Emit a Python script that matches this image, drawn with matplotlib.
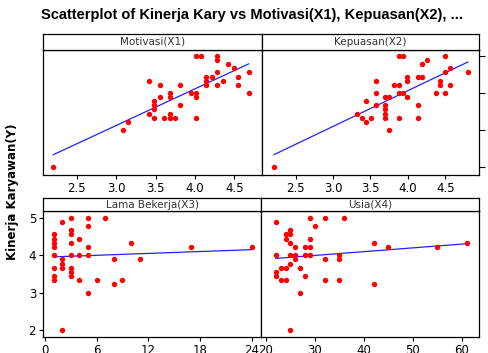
import numpy as np
import matplotlib.pyplot as plt

# Motivasi(X1)
x1 = [2.20, 3.08, 3.15, 3.41, 3.41, 3.48, 3.48, 3.48, 3.48, 3.55, 3.55, 3.61,
      3.68, 3.68, 3.68, 3.68, 3.74, 3.81, 3.81, 3.95, 4.01, 4.01, 4.01, 4.01,
      4.08, 4.14, 4.14, 4.14, 4.21, 4.28, 4.28, 4.28, 4.28, 4.35, 4.42, 4.49,
      4.55, 4.55, 4.68, 4.68]
y1 = [2.00, 3.00, 3.22, 4.33, 3.44, 3.33, 3.56, 3.67, 3.78, 3.89, 4.22, 3.33,
      3.33, 3.44, 3.89, 4.00, 3.33, 3.67, 4.22, 4.00, 4.00, 3.89, 3.33, 5.00,
      5.00, 4.22, 4.33, 4.44, 4.44, 4.22, 4.56, 4.89, 5.00, 4.33, 4.78, 4.67,
      4.44, 4.22, 4.56, 4.00]

# Kepuasan(X2)
x2 = [2.21, 3.32, 3.38, 3.44, 3.44, 3.51, 3.58, 3.58, 3.58, 3.69, 3.69, 3.69,
      3.69, 3.69, 3.75, 3.75, 3.82, 3.88, 3.88, 3.88, 3.88, 3.93, 3.93, 3.99,
      3.99, 3.99, 4.13, 4.13, 4.13, 4.19, 4.19, 4.25, 4.37, 4.43, 4.43, 4.49,
      4.49, 4.49, 4.56, 4.56, 4.80]
y2 = [2.00, 3.44, 3.33, 3.22, 3.78, 3.33, 3.67, 4.00, 4.33, 3.89, 3.67, 3.56,
      3.44, 3.33, 3.89, 3.00, 4.22, 4.22, 4.00, 5.00, 3.33, 5.00, 4.00, 3.89,
      4.33, 4.44, 4.44, 3.67, 3.33, 4.44, 4.78, 4.89, 4.00, 4.22, 4.33, 5.00,
      4.56, 4.00, 4.67, 4.22, 4.56]

# Lama Bekerja(X3)
x3 = [1, 1, 1, 1, 1, 1, 1, 1, 2, 2, 2, 2, 2, 3, 3, 3, 3, 3, 3, 3, 3,
      4, 4, 4, 5, 5, 5, 5, 5, 6, 7, 8, 8, 9, 10, 11, 17, 24]
y3 = [4.56, 4.44, 4.33, 4.22, 4.00, 3.67, 3.44, 3.33, 4.89, 3.89, 3.78, 3.67,
      2.00, 5.00, 4.67, 4.56, 4.33, 4.00, 3.67, 3.56, 3.44, 4.44, 4.00, 3.33,
      5.00, 4.78, 4.22, 4.00, 3.00, 3.33, 5.00, 3.89, 3.22, 3.33, 4.33, 3.89,
      4.22, 4.22]

# Usia(X4)
x4 = [22, 22, 22, 22, 23, 23, 24, 24, 24, 24, 25, 25, 25, 25, 25, 25, 26, 26,
      26, 27, 27, 28, 28, 28, 29, 29, 29, 29, 30, 32, 32, 32, 36, 35, 35, 35,
      42, 42, 45, 55, 61]
y4 = [4.89, 4.00, 3.56, 3.44, 3.67, 3.33, 4.56, 4.44, 3.67, 3.33, 4.67, 4.56,
      4.33, 4.00, 3.78, 2.00, 4.22, 4.00, 3.89, 3.67, 3.00, 4.22, 4.00, 3.44,
      5.00, 4.44, 4.22, 4.00, 4.78, 5.00, 3.89, 3.33, 5.00, 4.00, 3.89, 3.33,
      4.33, 3.22, 4.22, 4.22, 4.33]

names = ['Motivasi(X1)', 'Kepuasan(X2)', 'Lama Bekerja(X3)', 'Usia(X4)']
xticks = [[2.5, 3.0, 3.5, 4.0, 4.5], [2.5, 3.0, 3.5, 4.0, 4.5],
          [0, 6, 12, 18, 24], [20, 30, 40, 50, 60]]
yticks = [2, 3, 4, 5]

W, H = 489, 353
FONT = 'DejaVu Sans'


def box(l, t, r, b):
    # pixel box -> figure fraction
    return [l / W, 1 - b / H, (r - l) / W, (b - t) / H]


fig = plt.figure(figsize=(W / 100, H / 100), dpi=100)

panels = [
    (x1, y1, box(43, 50, 262, 175), box(43, 34, 262, 50), (2.07, 4.85), (1.78, 5.16)),
    (x2, y2, box(262, 50, 479, 175), box(262, 34, 479, 50), (2.05, 4.95), (1.78, 5.16)),
    (x3, y3, box(43, 211, 261, 337), box(43, 198, 261, 211), (-0.23, 25.1), (1.81, 5.19)),
    (x4, y4, box(261, 211, 479, 337), box(261, 198, 479, 211), (18.98, 63.5), (1.81, 5.19)),
]

for i, (xs, ys, pos, spos, xl, yl) in enumerate(panels):
    xs = np.array(xs, dtype=float)
    ys = np.array(ys, dtype=float)
    ax = fig.add_axes(pos)
    ax.scatter(xs, ys, s=15, c='#ff0000', marker='o', linewidths=0, zorder=3)
    b, a = np.polyfit(xs, ys, 1)
    xx = np.array([xs.min(), xs.max()])
    ax.plot(xx, a + b * xx, color='#2222ff', lw=0.9, zorder=2)
    ax.set_xlim(xl)
    ax.set_ylim(yl)
    ax.set_xticks(xticks[i])
    ax.set_yticks(yticks)
    ax.tick_params(direction='out', length=3, width=0.8, labelsize=8.5, pad=2,
                   colors='black')
    for lab in ax.get_xticklabels() + ax.get_yticklabels():
        lab.set_family(FONT)
    if i == 2:
        ax.tick_params(axis='y', left=True, labelleft=True)
    elif i == 1:
        # labels on this side fall outside the picture
        ax.tick_params(axis='y', left=False, labelleft=False,
                       right=True, labelright=False, length=4)
    else:
        ax.tick_params(axis='y', left=False, labelleft=False)
    for sp in ax.spines.values():
        sp.set_linewidth(0.9)

    sax = fig.add_axes(spos)
    sax.set_xticks([])
    sax.set_yticks([])
    for sp in sax.spines.values():
        sp.set_linewidth(0.9)
    sax.text(0.5, 0.5, names[i], ha='center', va='center', fontsize=7.5,
             family=FONT, color='#333333')

fig.text(252 / W, 1 - 15 / H,
         'Scatterplot of Kinerja Kary vs Motivasi(X1), Kepuasan(X2), ...',
         ha='center', va='center', fontsize=10.5, fontweight='bold',
         family='Liberation Sans')
fig.text(13 / W, 1 - 192 / H, 'Kinerja Karyawan(Y)', rotation=90,
         ha='center', va='center', fontsize=8.5, fontweight='bold', family=FONT)

fig.savefig('out.png', dpi=100)
